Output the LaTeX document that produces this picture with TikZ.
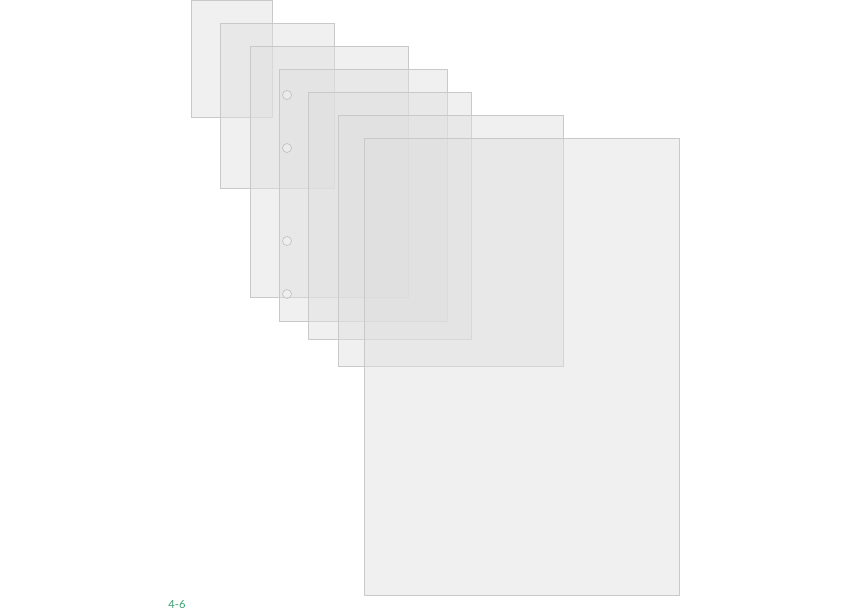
\documentclass[tikz,border=0pt]{standalone}
\usepackage{fontspec}
\setsansfont{Lato}
\usepackage{tikz}
\definecolor{sheetgrey}{RGB}{223,223,224}
\definecolor{labelgreen}{RGB}{55,160,110}
\tikzset{
        sheet/.style={fill=sheetgrey, fill opacity=0.48, draw=black!21, draw opacity=1, line width=0.5pt},
        hole/.style={draw=black!26, fill=white, fill opacity=0.3, line width=0.5pt},
        figlabel/.style={text=labelgreen, font=\sffamily\fontsize{9.5}{10}\selectfont, inner sep=0pt},
    }

\begin{document}
\begin{tikzpicture}[x = 0.3mm, y = -0.3mm]
                \useasboundingbox (0,0) rectangle (850,610);
                \foreach \l/\t/\r/\b in {191/0.5/272/117, 220/23/334/188, 250/46/408/297,
                                          279/69/447/321, 308/92/471/339, 338/115/563/366,
                                          364/138/679/595}
                {
                    \path[sheet] (\l,\t) rectangle (\r,\b);
                    \ifnum\l=279
                        \foreach \y in {95,148,241,294} \path[hole] (287,\y) circle (4.5);
                    \fi
                }
                \node[figlabel] (fignum) at (177,605) {4-6};
            \end{tikzpicture}
\end{document}
